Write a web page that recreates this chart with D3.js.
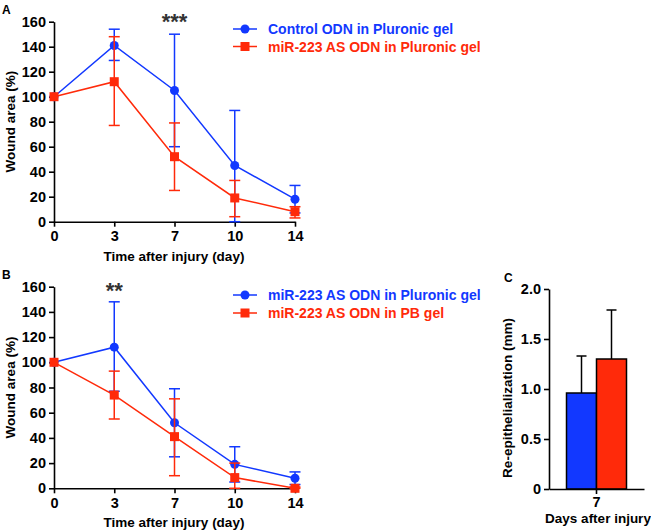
<!DOCTYPE html>
<html><head><meta charset="utf-8">
<script src="https://cdn.jsdelivr.net/npm/d3@7"></script>
<style>
body{margin:0;background:#fff;}
svg text{font-family:"Liberation Sans",Arial,sans-serif;font-weight:bold;}
</style></head>
<body><svg id="c" width="651" height="532"></svg>
<script>
// ---- data ----
const days = ["0","3","7","10","14"];
const seriesNamesA = ["Control ODN in Pluronic gel","miR-223 AS ODN in Pluronic gel"];
const controlA = [100,141,105,45,18];
const controlAErrLo = [100,129,60,0,7];
const controlAErrHi = [100,154,150,89,29];
const asA = [100,112,52,19,8];
const asAErrLo = [100,77,25,4,3];
const asAErrHi = [100,148,79,33,12];

const seriesNamesB = ["miR-223 AS ODN in Pluronic gel","miR-223 AS ODN in PB gel"];
const plurB = [100,112,52,19,8];
const plurBErrLo = [100,77,25,5,3];
const plurBErrHi = [100,148,79,33,13];
const pbB = [100,74,41,8.5,0];
const pbBErrLo = [100,55,10,0,0];
const pbBErrHi = [100,93,71,20,1];

const yTicksAB = [0,20,40,60,80,100,120,140,160];
const catC = ["7"];
const barSeriesC = ["Pluronic","PB"];
const barValuesC = [0.96,1.30];
const barErrHiC = [1.33,1.79];
const yTicksC = [0,0.5,1.0,1.5,2.0];
const yTickLabelsC = ["0","0.5","1.0","1.5","2.0"];

const BLUE = "#1238ff", RED = "#ff2a0a";

const svg = d3.select("#c");

function linePanel(opts){
  const g = svg.append("g");
  const x = d3.scalePoint().domain(days).range([54,295]);
  const y = d3.scaleLinear().domain([0,160]).range(opts.yRange);
  // axes
  const ya = g.append("g").attr("transform","translate(54,0)")
    .call(d3.axisLeft(y).tickValues(yTicksAB).tickSize(5).tickSizeOuter(0).tickPadding(3));
  const xa = g.append("g").attr("transform",`translate(0,${opts.yRange[0]})`)
    .call(d3.axisBottom(x).tickSize(5).tickSizeOuter(0).tickPadding(4));
  [ya,xa].forEach(a=>{
    a.selectAll("path,line").attr("stroke","#000").attr("stroke-width",1.6);
    a.selectAll("text").attr("font-size",14.5).attr("fill","#000");
  });
  // titles
  g.append("text").attr("x",174).attr("y",opts.yRange[0]+39).attr("text-anchor","middle")
    .attr("font-size",13.5).text("Time after injury (day)");
  g.append("text").attr("transform",`translate(15,${(opts.yRange[0]+opts.yRange[1])/2}) rotate(-90)`)
    .attr("text-anchor","middle").attr("font-size",13.5).text("Wound area (%)");
  g.append("text").attr("x",2).attr("y",opts.yRange[1]-8).attr("font-size",12).text(opts.label);
  // stars
  g.append("text").attr("x",x(opts.starDay)).attr("y",opts.starY).attr("text-anchor","middle")
    .attr("font-size",22).attr("font-weight","normal").attr("fill","#333").text(opts.stars);

  opts.series.forEach(s=>{
    const sg = g.append("g");
    // error bars
    days.forEach((d,i)=>{
      if(s.lo[i]===s.hi[i]) return;
      sg.append("line").attr("x1",x(d)).attr("x2",x(d)).attr("y1",y(s.lo[i])).attr("y2",y(s.hi[i]))
        .attr("stroke",s.color).attr("stroke-width",1.5);
      [s.lo[i],s.hi[i]].forEach(v=>{
        sg.append("line").attr("x1",x(d)-5.5).attr("x2",x(d)+5.5).attr("y1",y(v)).attr("y2",y(v))
          .attr("stroke",s.color).attr("stroke-width",1.5);
      });
    });
    sg.append("path").datum(s.vals).attr("fill","none").attr("stroke",s.color).attr("stroke-width",1.5)
      .attr("d",d3.line().x((v,i)=>x(days[i])).y(v=>y(v)));
    s.vals.forEach((v,i)=>{
      if(s.shape==="circle") sg.append("circle").attr("cx",x(days[i])).attr("cy",y(v)).attr("r",4.5).attr("fill",s.color);
      else sg.append("rect").attr("x",x(days[i])-4.5).attr("y",y(v)-4.5).attr("width",9).attr("height",9).attr("fill",s.color);
    });
  });
  // legend
  opts.series.forEach((s,k)=>{
    const ly = opts.legY[k];
    g.append("line").attr("x1",233).attr("x2",257).attr("y1",ly).attr("y2",ly).attr("stroke",s.color).attr("stroke-width",1.5);
    if(s.shape==="circle") g.append("circle").attr("cx",245).attr("cy",ly).attr("r",4.5).attr("fill",s.color);
    else g.append("rect").attr("x",240.5).attr("y",ly-4.5).attr("width",9).attr("height",9).attr("fill",s.color);
    g.append("text").attr("x",268).attr("y",ly+5).attr("font-size",14).attr("fill",s.color).text(s.name);
  });
}

linePanel({label:"A", yRange:[221.7,21.7], starDay:"7", stars:"***", starY:29, legY:[29,46.5],
  series:[
    {name:seriesNamesA[0],vals:controlA,lo:controlAErrLo,hi:controlAErrHi,color:BLUE,shape:"circle"},
    {name:seriesNamesA[1],vals:asA,lo:asAErrLo,hi:asAErrHi,color:RED,shape:"square"}
  ]});
linePanel({label:"B", yRange:[488.3,286.7], starDay:"3", stars:"**", starY:298, legY:[295,313],
  series:[
    {name:seriesNamesB[0],vals:plurB,lo:plurBErrLo,hi:plurBErrHi,color:BLUE,shape:"circle"},
    {name:seriesNamesB[1],vals:pbB,lo:pbBErrLo,hi:pbBErrHi,color:RED,shape:"square"}
  ]});

// Panel C
(function(){
  const g = svg.append("g");
  const y = d3.scaleLinear().domain([0,2]).range([489,289]);
  const x = d3.scaleBand().domain(catC).range([549,644]);
  const xs = d3.scaleBand().domain(barSeriesC).range([0,60]);
  const cx = x("7")+x.bandwidth()/2 - 30;
  const colors = [BLUE, RED];
  barSeriesC.forEach((s,i)=>{
    const bx = cx + xs(s);
    g.append("line").attr("x1",bx+xs.bandwidth()/2).attr("x2",bx+xs.bandwidth()/2)
      .attr("y1",y(barValuesC[i])).attr("y2",y(barErrHiC[i])).attr("stroke","#000").attr("stroke-width",1.5);
    g.append("line").attr("x1",bx+xs.bandwidth()/2-5).attr("x2",bx+xs.bandwidth()/2+5)
      .attr("y1",y(barErrHiC[i])).attr("y2",y(barErrHiC[i])).attr("stroke","#000").attr("stroke-width",1.5);
    g.append("rect").attr("x",bx).attr("y",y(barValuesC[i])).attr("width",xs.bandwidth())
      .attr("height",y(0)-y(barValuesC[i])).attr("fill",colors[i]).attr("stroke","#000").attr("stroke-width",1.5);
  });
  const ya = g.append("g").attr("transform","translate(549,0)")
    .call(d3.axisLeft(y).tickValues(yTicksC).tickFormat((d,i)=>yTickLabelsC[i]).tickSize(5).tickSizeOuter(0).tickPadding(3));
  const xa = g.append("g").attr("transform","translate(0,489)")
    .call(d3.axisBottom(x).tickSize(5).tickSizeOuter(0).tickPadding(3));
  [ya,xa].forEach(a=>{
    a.selectAll("path,line").attr("stroke","#000").attr("stroke-width",1.6);
    a.selectAll("text").attr("font-size",14.5).attr("fill","#000");
  });
  g.append("text").attr("x",598).attr("y",523).attr("text-anchor","middle").attr("font-size",13.5).text("Days after injury");
  g.append("text").attr("transform","translate(512,398) rotate(-90)").attr("text-anchor","middle")
    .attr("font-size",13.5).text("Re-epithelialization (mm)");
  g.append("text").attr("x",504).attr("y",282).attr("font-size",12).text("C");
})();
</script></body></html>
